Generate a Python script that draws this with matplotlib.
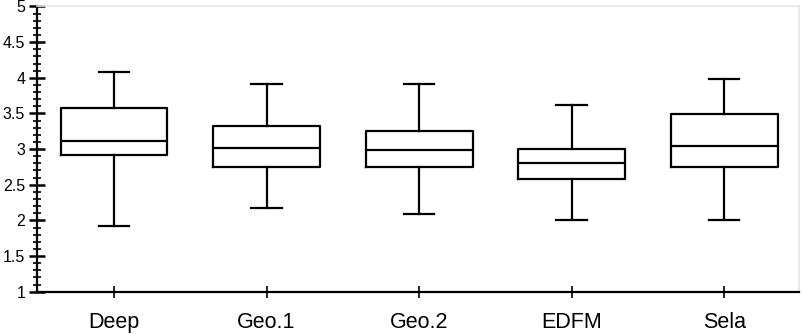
import matplotlib
matplotlib.use("Agg")
import matplotlib.pyplot as plt
from matplotlib.ticker import MultipleLocator

categories = ["Deep", "Geo.1", "Geo.2", "EDFM", "Sela"]
whisker_low = [1.92, 2.17, 2.09, 2.00, 2.00]
q1 = [2.92, 2.75, 2.75, 2.58, 2.75]
median = [3.12, 3.01, 2.99, 2.81, 3.05]
q3 = [3.58, 3.33, 3.25, 3.00, 3.49]
whisker_high = [4.08, 3.91, 3.91, 3.62, 3.99]

plt.rcParams['font.family'] = ['Liberation Sans', 'DejaVu Sans']

fig = plt.figure(figsize=(8.03, 3.34), dpi=100)
ax = fig.add_axes([0.046, 0.1266, 0.949, 0.854])

stats = []
for i, name in enumerate(categories):
    stats.append(dict(label=name, whislo=whisker_low[i], q1=q1[i], med=median[i],
                      q3=q3[i], whishi=whisker_high[i], fliers=[]))

lw = 1.6
ax.bxp(stats, positions=range(len(categories)), widths=0.70, showfliers=False,
       boxprops=dict(color='black', linewidth=lw),
       medianprops=dict(color='black', linewidth=lw),
       whiskerprops=dict(color='black', linewidth=lw),
       capprops=dict(color='black', linewidth=lw),
       capwidths=0.2)

ax.set_xlim(-0.505, 4.49)
ax.set_ylim(1, 5)
ax.yaxis.set_major_locator(MultipleLocator(0.5))
ax.yaxis.set_minor_locator(MultipleLocator(0.1))
ax.set_yticklabels([f"{v:g}" for v in ax.get_yticks()])
ax.set_xticks(range(len(categories)))
ax.set_xticklabels(categories)

ax.tick_params(axis='y', which='major', direction='inout', length=11, width=1.8,
               labelsize=11.5, pad=3)
ax.tick_params(axis='y', which='minor', direction='inout', length=6, width=1.2)
ax.tick_params(axis='x', which='major', direction='inout', length=9, width=1.2,
               labelsize=15.5, pad=10)

ax.spines['left'].set_linewidth(1.6)
ax.spines['bottom'].set_linewidth(1.6)
ax.spines['top'].set_color('#e6e6e6')
ax.spines['right'].set_color('#e6e6e6')
ax.spines['top'].set_linewidth(1.2)
ax.spines['right'].set_linewidth(1.2)

fig.savefig("out.png", dpi=100)
